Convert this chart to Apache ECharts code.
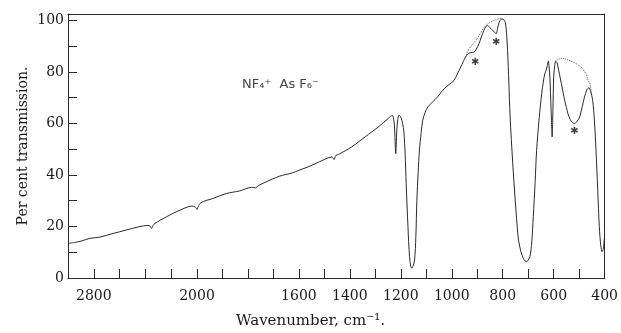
<!DOCTYPE html>
<html>
<head>
<meta charset="utf-8">
<script src="https://cdn.jsdelivr.net/npm/echarts@6/dist/echarts.min.js"></script>
<style>
html,body{margin:0;padding:0;background:#fff;}
#chart{width:621px;height:333px;}
</style>
</head>
<body>
<div id="chart"></div>
<script>
// Spectrum, high-wavenumber section (3000-2000 cm-1, compressed scale)
const spectrumHigh = [
  [3000,13.4],[2950,13.8],[2900,14.3],[2830,15.4],[2750,15.9],[2650,17.3],[2550,18.6],
  [2450,19.9],[2380,20.4],[2365,20.2],[2352,19.3],[2340,20.4],[2326,21.2],[2235,23.8],
  [2130,26.4],[2040,27.9],[2015,27.6],[2000,26.6]
];
// Spectrum, low-wavenumber section (2000-400 cm-1)
const spectrumLow = [
  [2000,26.6],[1985,29.2],[1937,30.9],[1885,32.8],[1833,33.8],[1785,35.2],[1770,35.0],
  [1760,35.8],[1729,37.3],[1677,39.5],[1626,40.8],[1600,41.8],[1560,43.3],[1520,45.1],
  [1470,47.0],[1462,46.0],[1455,47.6],[1444,48.0],[1393,50.9],[1340,54.8],[1289,58.6],
  [1250,61.9],[1240,62.8],[1233,63.2],[1227,61.0],[1224,57.0],[1220,48.3],[1216,57.0],
  [1212,61.5],[1207,63.2],[1200,62.5],[1193,60.0],[1188,56.7],[1183,48.0],[1179,36.7],
  [1172,20.0],[1166,8.3],[1161,4.6],[1157,3.8],[1152,4.6],[1146,7.0],[1141,16.0],
  [1137,30.2],[1132,41.0],[1127,49.6],[1120,56.5],[1114,61.2],[1105,64.2],[1094,66.4],
  [1075,68.4],[1056,70.3],[1030,73.5],[1010,75.2],[991,76.7],[978,79.2],[965,81.9],
  [955,84.0],[946,85.8],[938,86.9],[932,87.3],[920,87.6],[913,87.7],[905,88.6],[893,91.0],
  [884,93.6],[874,96.1],[867,97.4],[861,98.0],[852,97.4],[842,96.4],[833,95.5],[826,94.8],
  [820,97.0],[816,98.7],[810,100.0],[803,100.6],[796,100.3],[790,99.3],[785,95.0],
  [781,88.4],[776,76.0],[771,62.5],[761,45.0],[751,30.2],[744,21.0],[738,14.7],[728,10.0],
  [719,7.6],[712,6.6],[706,6.3],[700,7.0],[693,8.3],[686,14.0],[680,23.8],[673,37.0],
  [667,49.6],[657,62.0],[647,71.6],[641,76.0],[635,79.3],[630,80.5],[625,82.5],[621,84.2],
  [618,82.0],[615,78.0],[610,65.0],[606,54.8],[603,65.0],[600,78.0],[596,82.5],[592,84.2],
  [587,83.5],[583,81.9],[577,79.0],[570,75.5],[563,72.0],[557,69.0],[550,66.2],[544,63.8],
  [535,61.5],[527,60.4],[520,60.0],[510,60.6],[498,62.5],[488,66.5],[479,70.3],[470,73.0],
  [462,73.9],[455,72.5],[447,69.0],[440,61.0],[434,49.6],[427,34.0],[421,19.9],[415,12.5],
  [410,10.2],[405,11.5],[400,17.0]
];
// Dotted reference (background) traces
const referenceA = [
  [946,85.8],[936,88.4],[918,90.8],[900,93.0],[887,95.2],[874,97.2],[862,98.4],[850,99.2],
  [836,99.9],[822,100.4],[810,100.8],[803,100.6]
];
const referenceB = [
  [592,84.4],[580,85.0],[570,85.3],[560,85.2],[550,84.9],[535,84.3],[519,83.6],[505,82.8],
  [492,81.9],[480,80.3],[473,79.2],[465,77.0],[457,75.2],[452,71.5]
];
// Asterisk-marked bands
const asterisks = [[908,83.7],[826,91.5],[519,57.0]];
// Tick labels
const xLabelsHigh = [2800];
const xLabelsLow = [2000,1600,1400,1200,1000,800,600,400];
const yLabels = [0,20,40,60,80,100];

const SERIF = '"DejaVu Serif", "Liberation Serif", serif';
const ink = '#2a2a2a';
const chart = echarts.init(document.getElementById('chart'), null, {renderer:'canvas'});

const baseX = {
  type:'value', inverse:true,
  axisLine:{show:true, onZero:false, lineStyle:{color:ink, width:1}},
  axisTick:{show:true, inside:true, length:9, lineStyle:{color:ink}},
  splitLine:{show:false},
  axisLabel:{margin:11, color:'#1a1a1a', fontFamily:SERIF, fontSize:14}
};
const frameX = {
  type:'value', position:'top', inverse:true,
  axisLine:{show:true, onZero:false, lineStyle:{color:ink, width:1}},
  axisTick:{show:false}, axisLabel:{show:false}, splitLine:{show:false}
};

chart.setOption({
  animation:false,
  backgroundColor:'#fff',
  textStyle:{fontFamily:SERIF},
  grid:[
    {left:68, top:14, width:129, bottom:55},
    {left:197, top:14, right:11, bottom:55}
  ],
  xAxis:[
    Object.assign({}, baseX, {gridIndex:0, min:2000, max:3000, interval:200,
      axisLabel:Object.assign({}, baseX.axisLabel, {formatter:v => xLabelsHigh.includes(v) ? String(v) : ''})}),
    Object.assign({}, baseX, {gridIndex:1, min:400, max:2000, interval:100,
      axisLabel:Object.assign({}, baseX.axisLabel, {showMinLabel:true, showMaxLabel:true,
        formatter:v => xLabelsLow.includes(v) ? String(v) : ''})}),
    Object.assign({}, frameX, {gridIndex:0, min:2000, max:3000}),
    Object.assign({}, frameX, {gridIndex:1, min:400, max:2000})
  ],
  yAxis:[
    {gridIndex:0, type:'value', min:0, max:102.5, interval:10,
     axisLine:{show:true, onZero:false, lineStyle:{color:ink}},
     axisTick:{show:true, inside:true, length:9, lineStyle:{color:ink}},
     splitLine:{show:false},
     axisLabel:{margin:4, color:'#1a1a1a', fontFamily:SERIF, fontSize:14,
       formatter:v => yLabels.includes(v) ? String(v) : ''},
     name:'Per cent transmission.', nameLocation:'middle', nameGap:38,
     nameTextStyle:{fontFamily:SERIF, fontSize:14, color:'#1a1a1a'}},
    {gridIndex:1, type:'value', min:0, max:102.5, show:false},
    {gridIndex:1, type:'value', min:0, max:102.5, position:'right',
     axisLine:{show:true, onZero:false, lineStyle:{color:ink}}, axisTick:{show:false},
     axisLabel:{show:false}, splitLine:{show:false}}
  ],
  graphic:[
    {type:'text', left:242, top:78, style:{text:'NF₄⁺  As F₆⁻', fill:'#444',
      font:'13px "DejaVu Sans", sans-serif'}},
    {type:'text', left:'center', top:314, style:{text:'Wavenumber, cm⁻¹.', fill:'#1a1a1a',
      font:'15px "DejaVu Serif", serif'}}
  ],
  series:[
    {type:'line', xAxisIndex:0, yAxisIndex:0, data:spectrumHigh, showSymbol:false,
     smooth:0.3, lineStyle:{color:ink, width:1}},
    {type:'line', xAxisIndex:1, yAxisIndex:1, data:spectrumLow, showSymbol:false,
     smooth:0.3, lineStyle:{color:ink, width:1}},
    {type:'line', xAxisIndex:1, yAxisIndex:1, data:referenceA, showSymbol:false,
     smooth:0.3, lineStyle:{color:'#555', width:1, type:'dotted'}},
    {type:'line', xAxisIndex:1, yAxisIndex:1, data:referenceB, showSymbol:false,
     smooth:0.3, lineStyle:{color:'#555', width:1, type:'dotted'}},
    {type:'scatter', xAxisIndex:1, yAxisIndex:1, data:asterisks, symbol:'circle', symbolSize:1,
     itemStyle:{color:'rgba(0,0,0,0)'},
     label:{show:true, position:'inside', formatter:'✱', fontSize:10, color:'#111',
       fontFamily:'"DejaVu Sans", sans-serif'}}
  ]
});
</script>
</body>
</html>
